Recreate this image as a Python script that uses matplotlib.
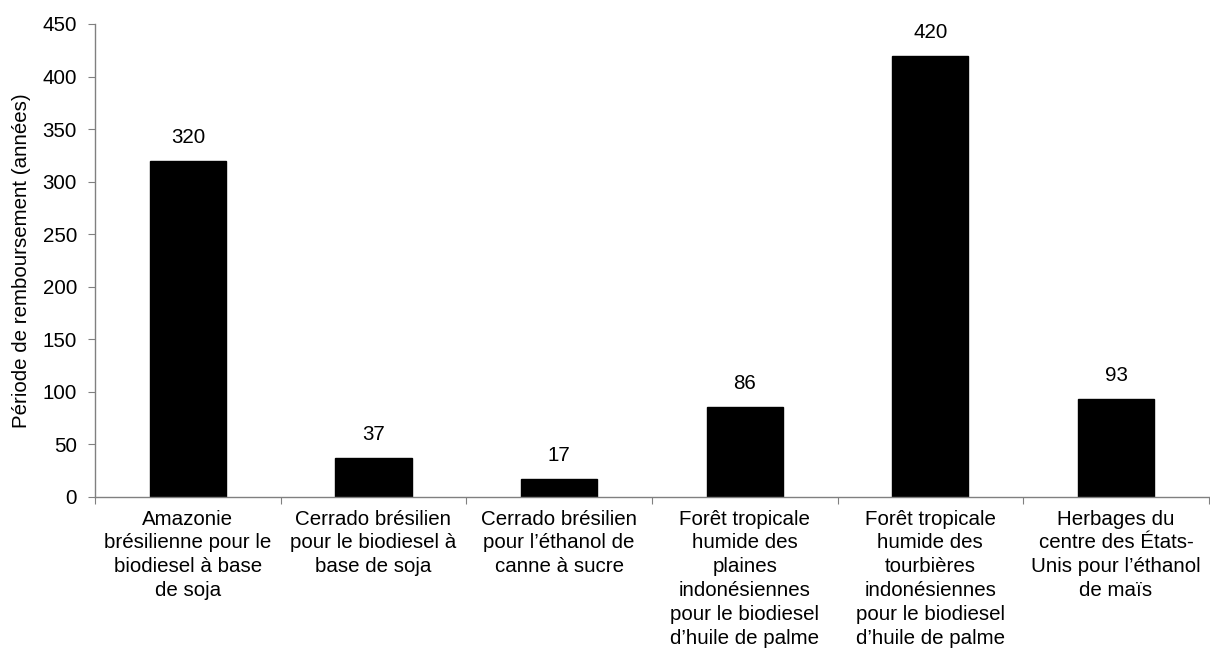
import matplotlib
matplotlib.use("Agg")
import matplotlib.pyplot as plt

categories = [
    "Amazonie\nbrésilienne pour le\nbiodiesel à base\nde soja",
    "Cerrado brésilien\npour le biodiesel à\nbase de soja",
    "Cerrado brésilien\npour l’éthanol de\ncanne à sucre",
    "Forêt tropicale\nhumide des\nplaines\nindonésiennes\npour le biodiesel\nd’huile de palme",
    "Forêt tropicale\nhumide des\ntourbières\nindonésiennes\npour le biodiesel\nd’huile de palme",
    "Herbages du\ncentre des États-\nUnis pour l’éthanol\nde maïs",
]
values = [320, 37, 17, 86, 420, 93]
yticks = [0, 50, 100, 150, 200, 250, 300, 350, 400, 450]
ylabel = "Période de remboursement (années)"

FS = 14.8
plt.rcParams['font.family'] = ['Liberation Sans', 'DejaVu Sans']
fig = plt.figure(figsize=(12.1, 6.72), dpi=100)
ax = fig.add_axes([95/1210, 175/672, 1 - 95/1210 - 0.001, (497-24)/672])

x = list(range(len(values)))
ax.bar(x, values, width=0.41, color='black', edgecolor='black')
for xi, v in zip(x, values):
    ax.annotate(str(v), (xi, v), xytext=(0, 10), textcoords='offset points',
                ha='center', va='bottom', fontsize=FS)

ax.set_xlim(-0.5, len(values) - 0.5)
ax.set_ylim(0, 450)
ax.set_yticks(yticks)
ax.tick_params(axis='y', labelsize=FS, length=5, color='#808080', pad=8)
ax.set_xticks([i + 0.5 for i in range(-1, len(values))])
ax.set_xticklabels([])
ax.tick_params(axis='x', length=5, color='#808080')
for xi, lab in zip(x, categories):
    ax.text(xi, -12, lab, ha='center', va='top', fontsize=FS, linespacing=1.32)
ax.set_ylabel(ylabel, fontsize=FS, labelpad=8)
for s in ['top', 'right']:
    ax.spines[s].set_visible(False)
for s in ['left', 'bottom']:
    ax.spines[s].set_color('#808080')
    ax.spines[s].set_linewidth(1.0)

fig.savefig("out.png", dpi=100)
